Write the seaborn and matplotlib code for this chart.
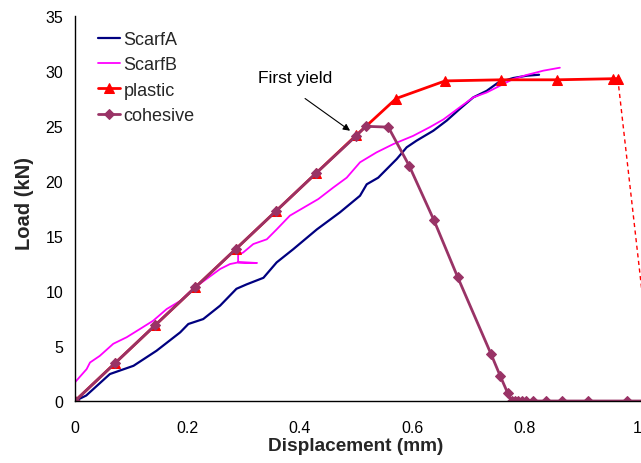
import matplotlib
matplotlib.use("Agg")
import matplotlib.pyplot as plt
import seaborn as sns
import numpy as np

# ---- data ----
scarfA_x = [0, 0.02, 0.062, 0.104, 0.145, 0.187, 0.2015, 0.228, 0.258, 0.287, 0.305, 0.335,
            0.3585, 0.388, 0.43, 0.471, 0.5067, 0.5186, 0.539, 0.572, 0.5896, 0.607, 0.637,
            0.661, 0.684, 0.708, 0.732, 0.7526, 0.779, 0.803, 0.825]
scarfA_y = [0, 0.5, 2.45, 3.2, 4.57, 6.24, 7.0, 7.45, 8.67, 10.2, 10.6, 11.2,
            12.6, 13.8, 15.6, 17.15, 18.66, 19.7, 20.3, 22.0, 23.06, 23.66, 24.57,
            25.5, 26.55, 27.6, 28.2, 28.96, 29.36, 29.57, 29.66]

scarfB_x = [0, 0, 0.0207, 0.0267, 0.044, 0.068, 0.092, 0.1156, 0.139, 0.163, 0.187, 0.21,
            0.234, 0.258, 0.2756, 0.29, 0.323, 0.29, 0.29, 0.299, 0.317, 0.341, 0.3585,
            0.382, 0.4326, 0.459, 0.483, 0.5067, 0.536, 0.566, 0.601, 0.631, 0.655, 0.684,
            0.708, 0.732, 0.7556, 0.779, 0.803, 0.8326, 0.862]
scarfB_y = [0.5, 1.7, 2.9, 3.5, 4.1, 5.2, 5.8, 6.55, 7.3, 8.36, 9.1, 10.2,
            11.1, 12.0, 12.45, 12.6, 12.55, 12.6, 13.3, 13.5, 14.27, 14.7, 15.6,
            16.85, 18.36, 19.4, 20.3, 21.7, 22.6, 23.36, 24.1, 24.9, 25.6, 26.7,
            27.6, 28.05, 28.66, 29.27, 29.64, 30.03, 30.3]

plastic_x = [0, 0.0714, 0.1428, 0.2142, 0.2856, 0.357, 0.4284, 0.4998, 0.571, 0.658,
             0.757, 0.857, 0.957, 0.965]
plastic_y = [0, 3.45, 6.9, 10.35, 13.8, 17.25, 20.7, 24.15, 27.5, 29.1,
             29.2, 29.2, 29.3, 29.3]
plastic_drop_x = [0.965, 1.03]
plastic_drop_y = [29.3, 0]

cohesive_x = [0, 0.0714, 0.1428, 0.2142, 0.2856, 0.357, 0.4284, 0.4998, 0.517, 0.557,
              0.594, 0.638, 0.680, 0.7396, 0.756, 0.769, 0.7764, 0.7822, 0.788, 0.794,
              0.802, 0.8148, 0.8368, 0.8663, 0.9126, 0.9807, 1.06]
cohesive_y = [0, 3.45, 6.9, 10.35, 13.8, 17.25, 20.7, 24.1, 24.97, 24.9,
              21.4, 16.45, 11.3, 4.27, 2.27, 0.75, 0, 0, 0, 0,
              0, 0, 0, 0, 0, 0, 0]

xticks = [0, 0.2, 0.4, 0.6, 0.8, 1.0]
xtick_labels = ["0", "0.2", "0.4", "0.6", "0.8", "1"]
yticks = [0, 5, 10, 15, 20, 25, 30, 35]

# ---- style ----
sns.set_style("white")
plt.rcParams["font.family"] = ["Liberation Sans", "DejaVu Sans"]

fig = plt.figure(figsize=(6.41, 4.64), dpi=100)
ax_w_px = 1.05 * 562.5
ax = fig.add_axes([75 / 641, 62 / 464, ax_w_px / 641, 385 / 464])

c_a = "#000080"
c_b = "#FF00FF"
c_p = "#FF0000"
c_c = "#993366"

sns.lineplot(x=scarfA_x, y=scarfA_y, sort=False, estimator=None, ax=ax,
             color=c_a, linewidth=1.6, label="ScarfA")
sns.lineplot(x=scarfB_x, y=scarfB_y, sort=False, estimator=None, ax=ax,
             color=c_b, linewidth=1.3, label="ScarfB")
sns.lineplot(x=plastic_x, y=plastic_y, sort=False, estimator=None, ax=ax,
             color=c_p, linewidth=2.0, marker="^", markersize=7,
             markeredgecolor=c_p, label="plastic")
sns.lineplot(x=plastic_drop_x, y=plastic_drop_y, sort=False, estimator=None, ax=ax,
             color=c_p, linewidth=1.0, linestyle=(0, (3, 2.5)))
sns.lineplot(x=cohesive_x, y=cohesive_y, sort=False, estimator=None, ax=ax,
             color=c_c, linewidth=2.0, marker="D", markersize=5,
             markeredgecolor=c_c, label="cohesive")

ax.set_xlim(0, 1.05)
ax.set_ylim(0, 35)
ax.set_xticks(xticks)
ax.set_xticklabels(xtick_labels)
ax.set_yticks(yticks)
ax.tick_params(axis="x", direction="in", length=4, width=0.8, labelsize=11.5, pad=13.5, colors="black")
ax.tick_params(axis="y", direction="out", length=3.6, width=0.8, labelsize=11.5, pad=5, colors="black")

for s in ["top", "right"]:
    ax.spines[s].set_visible(False)
for s in ["left", "bottom"]:
    ax.spines[s].set_color("black")
    ax.spines[s].set_linewidth(1.0)

ax.set_xlabel("Displacement (mm)", fontsize=13.7, fontweight="bold")
ax.set_ylabel("Load (kN)", fontsize=14.5, fontweight="bold")
ax.xaxis.set_label_coords((355.5 - 75) / ax_w_px, -(447 - 402) / 385, transform=ax.transAxes)
ax.yaxis.set_label_coords((25 - 75) / ax_w_px, (402 - 203) / 385, transform=ax.transAxes)
ax.xaxis.label.set_va("center")
ax.yaxis.label.set_va("center")

ax.text(0.3245, 29.4, "First yield", fontsize=12.5, color="black", va="center", ha="left")
ax.annotate("", xy=(0.489, 24.57), xytext=(0.409, 27.5),
            arrowprops=dict(arrowstyle="-|>", color="black", lw=0.8,
                            shrinkA=0, shrinkB=0, mutation_scale=10))

leg = ax.legend(loc="upper left", bbox_to_anchor=(0.039, 0.961), frameon=False,
                fontsize=13, handlelength=1.2, handletextpad=0.2, labelspacing=0.46,
                borderaxespad=0, borderpad=0)

fig.savefig("out.png", dpi=100)
